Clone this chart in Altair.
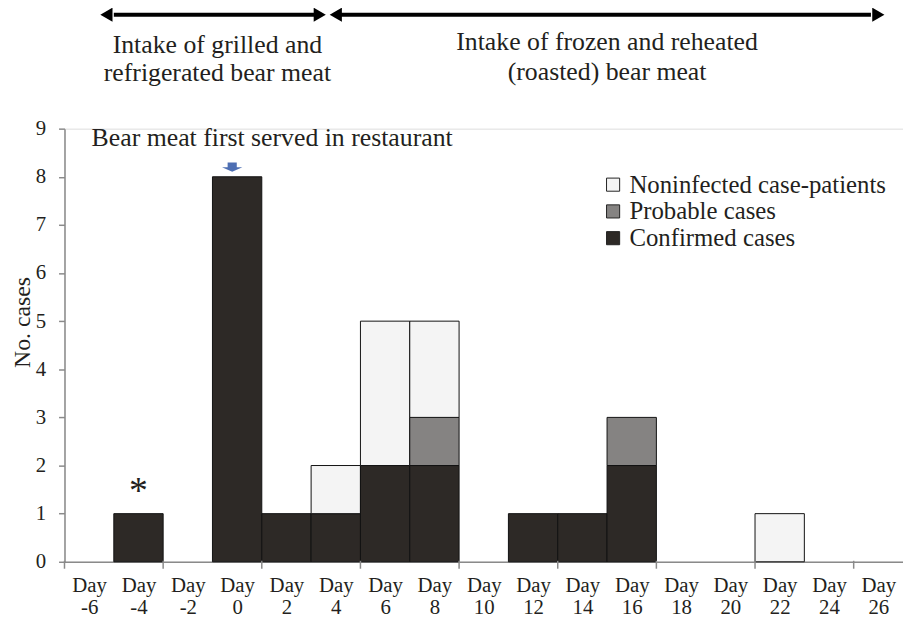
import altair as alt
import pandas as pd

# ---- data ----
days = [-6, -4, -2, 0, 2, 4, 6, 8, 10, 12, 14, 16, 18, 20, 22, 24, 26]
confirmed = [0, 1, 0, 8, 1, 1, 2, 2, 0, 1, 1, 2, 0, 0, 0, 0, 0]
probable = [0, 0, 0, 0, 0, 0, 0, 1, 0, 0, 0, 1, 0, 0, 0, 0, 0]
noninfected = [0, 0, 0, 0, 0, 1, 3, 2, 0, 0, 0, 0, 0, 0, 1, 0, 0]
tick_days = [-7, -3, 1, 5, 9, 13, 17, 21, 25]
y_ticks = [0, 1, 2, 3, 4, 5, 6, 7, 8, 9]

series = ["Noninfected case-patients", "Probable cases", "Confirmed cases"]
colors = ["#f4f4f4", "#858382", "#2d2926"]
stack_order = {"Confirmed cases": 0, "Probable cases": 1, "Noninfected case-patients": 2}

rows = []
for d, c, p, n in zip(days, confirmed, probable, noninfected):
    for name, v in (("Confirmed cases", c), ("Probable cases", p), ("Noninfected case-patients", n)):
        rows.append({"day": d, "status": name, "count": v, "ord": stack_order[name]})
df = pd.DataFrame(rows)

FONT = "Liberation Serif"
TXT = "#231f20"
AX = "#8a8a8a"
W, H = 846, 437

xscale = alt.Scale(domain=[-7, 27], nice=False, zero=False)
yscale = alt.Scale(domain=[0, 9], nice=False)

bars = (
    alt.Chart(df)
    .transform_filter("datum.count > 0")
    .transform_stack(stack="count", groupby=["day"], sort=[alt.SortField("ord", "ascending")], as_=["y0", "y1"])
    .transform_calculate(x0="datum.day - 1", x1="datum.day + 1")
    .mark_bar(stroke="#111111", strokeWidth=1)
    .encode(
        x=alt.X("x0:Q", scale=xscale,
                axis=alt.Axis(values=days, labelExpr="['Day', datum.value]", ticks=False,
                              domainColor=AX, domainWidth=1.5, labelFont=FONT, labelFontSize=21,
                              labelColor=TXT, labelPadding=13, labelLineHeight=22,
                              labelBaseline="top", title=None, grid=False, labelFlush=False,
                              labelOverlap=False)),
        x2="x1:Q",
        y=alt.Y("y0:Q", scale=yscale,
                axis=alt.Axis(values=y_ticks, title="No. cases", titleFont=FONT, titleFontSize=24,
                              titleFontWeight="normal", titleColor=TXT,
                              titleX=-35, titleY=195, titleAngle=-90, titleAlign="center",
                              titleBaseline="alphabetic",
                              labelFont=FONT, labelFontSize=21, labelColor=TXT, labelPadding=13,
                              tickSize=6, tickColor=AX, domainColor=AX, domainWidth=1.5,
                              tickWidth=1.5, grid=False)),
        y2="y1:Q",
        color=alt.Color("status:N", scale=alt.Scale(domain=series, range=colors),
                        legend=alt.Legend(orient="none", legendX=541, legendY=44, title=None,
                                          symbolType="square", symbolSize=175,
                                          symbolStrokeColor="#222222", symbolStrokeWidth=1,
                                          symbolOpacity=1, labelFont=FONT, labelFontSize=25,
                                          labelColor=TXT, rowPadding=1, labelOffset=4,
                                          labelLimit=0)),
    )
)

ticks = (
    alt.Chart(pd.DataFrame({"t": tick_days}))
    .mark_rule(color=AX, strokeWidth=1.5)
    .encode(x=alt.X("t:Q", scale=xscale), y=alt.value(H - 1), y2=alt.value(H + 7))
)

one = pd.DataFrame({"a": [0]})

served = (
    alt.Chart(one)
    .mark_text(text="Bear meat first served in restaurant", font=FONT, fontSize=26, color=TXT,
               align="left", baseline="middle")
    .encode(x=alt.datum(-5.9), y=alt.datum(8.8))
)

blue_arrow = (
    alt.Chart(one)
    .mark_point(shape="M-0.45,-0.45 L0.45,-0.45 L0.45,0 L1,0 L0,0.45 L-1,0 L-0.45,0 Z",
                size=420, filled=True, color="#4e6fb3", opacity=1)
    .encode(x=alt.datum(-0.2), y=alt.datum(8.2))
)

star = (
    alt.Chart(one)
    .mark_text(text="*", font=FONT, fontSize=38, color=TXT, align="center", baseline="alphabetic")
    .encode(x=alt.datum(-4), y=alt.datum(1.22))
)

# top period arrows
arrow_y = -115
seg1 = alt.Chart(one).mark_rule(color="#000000", strokeWidth=4).encode(
    x=alt.datum(-5.0), x2=alt.datum(3.3), y=alt.value(arrow_y))
seg2 = alt.Chart(one).mark_rule(color="#000000", strokeWidth=4).encode(
    x=alt.datum(4.0), x2=alt.datum(25.7), y=alt.value(arrow_y))
headsL = alt.Chart(pd.DataFrame({"x": [-5.3, 4.0]})).mark_point(
    shape="triangle-left", size=200, filled=True, color="#000000", opacity=1).encode(
    x=alt.X("x:Q", scale=xscale), y=alt.value(arrow_y))
headsR = alt.Chart(pd.DataFrame({"x": [3.35, 26.0]})).mark_point(
    shape="triangle-right", size=200, filled=True, color="#000000", opacity=1).encode(
    x=alt.X("x:Q", scale=xscale), y=alt.value(arrow_y))

label1 = alt.Chart(one).mark_text(
    text=["Intake of grilled and", "refrigerated bear meat"], font=FONT, fontSize=26,
    color=TXT, align="center", baseline="middle", lineHeight=28).encode(
    x=alt.datum(-0.8), y=alt.value(-84))
label2 = alt.Chart(one).mark_text(
    text=["Intake of frozen and reheated", "(roasted) bear meat"], font=FONT, fontSize=26,
    color=TXT, align="center", baseline="middle", lineHeight=30).encode(
    x=alt.datum(15.0), y=alt.value(-87))

chart = (
    alt.layer(bars, ticks, served, blue_arrow, star, seg1, seg2, headsL, headsR, label1, label2)
    .properties(width=W, height=H,
                autosize=alt.AutoSizeParams(type="none"),
                padding={"left": 57, "top": 119, "right": 0, "bottom": 55})
    .configure_view(stroke=None)
    .configure(background="white")
)

chart.save("out.html", embed_options={"renderer": "svg", "actions": False})
